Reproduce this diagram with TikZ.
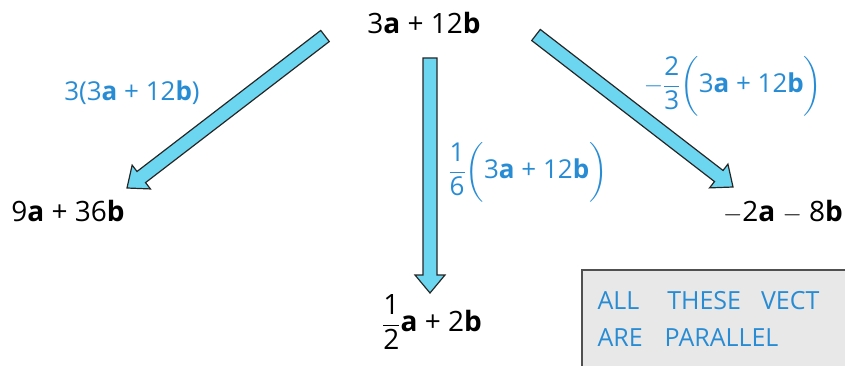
\documentclass[tikz,border=0pt]{standalone}
\usepackage{amsmath}
\usepackage{fontspec}
\setmainfont{Open Sans}
\usetikzlibrary{calc}
\definecolor{arrowcyan}{RGB}{108,214,240}
\definecolor{labblue}{RGB}{40,140,212}
\definecolor{boxgray}{RGB}{232,232,232}
\definecolor{boxedge}{RGB}{80,80,80}
\tikzset{
  every picture/.style={line width=1pt},
  expr/.style={font=\fontsize{28}{32}\selectfont,inner sep=1pt,text=black},
  lab/.style={font=\fontsize{26}{30}\selectfont,inner sep=1pt,text=labblue},
  note/.style={font=\fontsize{25}{37}\selectfont,text=labblue,anchor=west,inner sep=0pt},
  fatarrow/.style={draw=black!85,fill=arrowcyan,line width=1.2pt,line join=miter},
  notebox/.style={draw=boxedge,fill=boxgray,line width=1.5pt},
}
% block arrow from #1 to #2
\newcommand{\fatarrow}[2]{%
  \coordinate (#1h) at ($(#2)!18pt!(#1)$);
  \draw[fatarrow] ($(#1)!7pt!90:(#2)$) -- ($(#1h)!7pt!90:(#2)$) -- ($(#1h)!15pt!90:(#2)$)
    -- (#2) -- ($(#1h)!15pt!-90:(#2)$) -- ($(#1h)!7pt!-90:(#2)$) -- ($(#1)!7pt!-90:(#2)$) -- cycle;}
\newcommand{\tallfrac}{\vphantom{\dfrac{\text{1}}{\text{6}}}}

\begin{document}
\begin{tikzpicture}[x=1pt,y=-1pt]
\useasboundingbox (0,0) rectangle (845,366);
\clip (0,0) rectangle (845,366);
% expressions
\node[expr] (top) at (424,23) {3\textbf{a} + 12\textbf{b}};
\node[expr] (left) at (68,211) {9\textbf{a} + 36\textbf{b}};
\node[expr] (mid) at (432,322) {$\dfrac{\text{1}}{\text{2}}$\textbf{a} + 2\textbf{b}};
\node[expr] (right) at (783,212) {$-$2\textbf{a} $-$ 8\textbf{b}};
% arrows
\coordinate (lt) at (325,36);
\coordinate (lh) at (127,188);
\coordinate (mt) at (430,58);
\coordinate (mh) at (430,293);
\coordinate (rt) at (536,35);
\coordinate (rh) at (733,187);
\fatarrow{lt}{lh}
\fatarrow{mt}{mh}
\fatarrow{rt}{rh}
% factors
\node[lab] (lfac) at (132,93) {3(3\textbf{a} + 12\textbf{b})};
\node[lab] (mfac) at (528,172) {$\dfrac{\text{1}}{\text{6}}\!\left(\tallfrac\text{3\textbf{a} + 12\textbf{b}}\right)$};
\node[lab] (rfac) at (733,86) {$-\dfrac{\text{2}}{\text{3}}\!\left(\tallfrac\text{3\textbf{a} + 12\textbf{b}}\right)$};
% note
\draw[notebox] (582,270) rectangle (860,380);
\node[note] (l1) at (597,301) {ALL\hspace{28pt}THESE\hspace{20pt}VECT};
\node[note] (l2) at (597,338) {ARE\hspace{22pt}PARALLEL};
\end{tikzpicture}
\end{document}
